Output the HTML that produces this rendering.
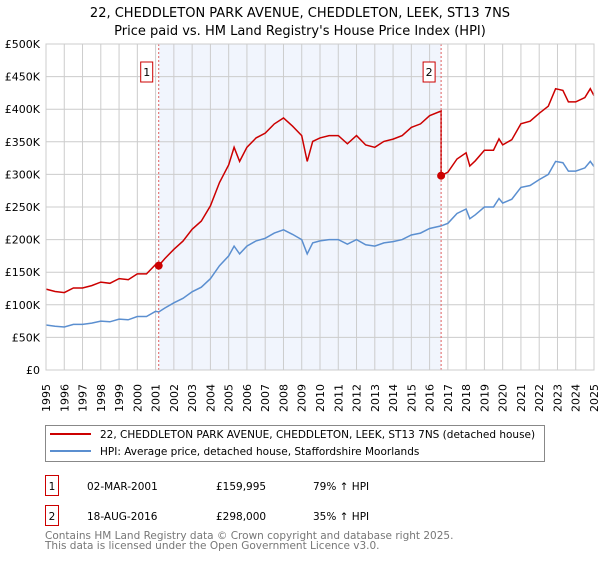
<!DOCTYPE html>
<html><head><meta charset="utf-8"><style>
body{margin:0;background:#fff;font-family:"DejaVu Sans","Liberation Sans",sans-serif;}
svg text{font-family:"DejaVu Sans","Liberation Sans",sans-serif;}
</style></head><body>
<svg id="c" width="600" height="560" xmlns="http://www.w3.org/2000/svg">
<text x="300" y="17" text-anchor="middle" font-size="13">22, CHEDDLETON PARK AVENUE, CHEDDLETON, LEEK, ST13 7NS</text>
<text x="300" y="35" text-anchor="middle" font-size="13">Price paid vs. HM Land Registry's House Price Index (HPI)</text>
<g id="plot"></g>
<g>
<rect x="45.5" y="425.5" width="499" height="36" fill="#fff" stroke="#888"/>
<line x1="50" y1="434" x2="91" y2="434" stroke="#cc0000" stroke-width="2"/>
<text x="100" y="438" font-size="10.5">22, CHEDDLETON PARK AVENUE, CHEDDLETON, LEEK, ST13 7NS (detached house)</text>
<line x1="50" y1="451" x2="91" y2="451" stroke="#5b8fd0" stroke-width="2"/>
<text x="100" y="455" font-size="10.5">HPI: Average price, detached house, Staffordshire Moorlands</text>
</g>
<g font-size="10.5">
<rect x="45.5" y="475.5" width="13" height="20" fill="#fff" stroke="#cc0000"/><text x="52" y="490" text-anchor="middle">1</text>
<text x="87" y="490">02-MAR-2001</text><text x="216" y="490">£159,995</text><text x="313" y="490">79% ↑ HPI</text>
<rect x="45.5" y="505.5" width="13" height="20" fill="#fff" stroke="#cc0000"/><text x="52" y="520" text-anchor="middle">2</text>
<text x="87" y="520">18-AUG-2016</text><text x="216" y="520">£298,000</text><text x="313" y="520">35% ↑ HPI</text>
</g>
<text x="45" y="539" font-size="10.5" fill="#777">Contains HM Land Registry data © Crown copyright and database right 2025.</text>
<text x="45" y="549" font-size="10.5" fill="#777">This data is licensed under the Open Government Licence v3.0.</text>
</svg>
<script>
const hpiYears=[1995,1995.5,1996,1996.5,1997,1997.5,1998,1998.5,1999,1999.5,2000,2000.5,2001,2001.17,2001.5,2002,2002.5,2003,2003.5,2004,2004.5,2005,2005.3,2005.6,2006,2006.5,2007,2007.5,2008,2008.5,2009,2009.3,2009.6,2010,2010.5,2011,2011.5,2012,2012.5,2013,2013.5,2014,2014.5,2015,2015.5,2016,2016.63,2017,2017.5,2018,2018.2,2018.5,2019,2019.5,2019.8,2020,2020.5,2021,2021.5,2022,2022.5,2022.9,2023.3,2023.6,2024,2024.5,2024.8,2025];
const hpiValues=[69,67,66,70,70,72,75,74,78,77,82,82,90,89,95,103,110,120,127,140,160,175,190,178,190,198,202,210,215,208,200,178,195,198,200,200,193,200,192,190,195,197,200,207,210,217,221,225,240,247,232,238,250,250,263,256,262,280,283,292,300,320,318,305,305,310,320,312];
const saleYears=[2001.17,2016.63];
const salePrices=[159995,298000];
const yTicks=[0,50,100,150,200,250,300,350,400,450,500];
const yLabels=["£0","£50K","£100K","£150K","£200K","£250K","£300K","£350K","£400K","£450K","£500K"];
const x0=46,x1=594,y0=370,y1=44;
const X=t=>x0+(t-1995)/30*(x1-x0);
const Y=v=>y0-v/500*(y0-y1);
const ns="http://www.w3.org/2000/svg",g=document.getElementById('plot');
function mk(tag,a){const e=document.createElementNS(ns,tag);for(const k in a)e.setAttribute(k,a[k]);g.appendChild(e);return e;}
let e=mk('rect',{x:x0,y:y1,width:x1-x0,height:y0-y1,fill:'#fff'});

e=mk('rect',{x:X(saleYears[0]),y:y1,width:X(saleYears[1])-X(saleYears[0]),height:y0-y1,fill:'#eef3fd',opacity:0.8});

for(let yr=1995;yr<=2025;yr++){
 e=mk('line',{x1:X(yr),x2:X(yr),y1:y1,y2:y0,stroke:'#ccc'});
 
 e=mk('text',{x:0,y:0,'font-size':11,transform:`translate(${X(yr)+4},${412}) rotate(-90)`});
 e.textContent=yr;
}
yTicks.forEach((v,i)=>{
 e=mk('line',{x1:x0,x2:x1,y1:Y(v),y2:Y(v),stroke:'#ccc'});
 
 e=mk('text',{x:40,y:Y(v)+4,'font-size':11,'text-anchor':'end'});
 e.textContent=yLabels[i];
});
const h1=hpiValues[hpiYears.indexOf(saleYears[0])],h2=hpiValues[hpiYears.indexOf(saleYears[1])];
const f1=salePrices[0]/1000/h1,f2=salePrices[1]/1000/h2;
let pb='',pr='';
hpiYears.forEach((t,i)=>{
 const v=hpiValues[i];pb+=(i?'L':'M')+X(t).toFixed(1)+','+Y(v).toFixed(1);
 const r=v*(t<saleYears[1]?f1:f2);
 if(Math.abs(t-saleYears[1])<1e-6) pr+='L'+X(t).toFixed(1)+','+Y(v*f1).toFixed(1);
 pr+=(i?'L':'M')+X(t).toFixed(1)+','+Y(r).toFixed(1);
});
e=mk('path',{d:pb,fill:'none',stroke:'#5b8fd0','stroke-width':1.5});

e=mk('path',{d:pr,fill:'none',stroke:'#cc0000','stroke-width':1.5});

saleYears.forEach((t,i)=>{
 e=mk('line',{x1:X(t),x2:X(t),y1:y1,y2:y0,stroke:'#e06060','stroke-dasharray':'2,2'});
 
 e=mk('circle',{cx:X(t),cy:Y(salePrices[i]/1000),r:4,fill:'#cc0000'});
 
 e=mk('rect',{x:X(t)-18,y:62,width:12,height:20,fill:'#fff',stroke:'#cc0000'});
 
 e=mk('text',{x:X(t)-12,y:76,'font-size':11,'text-anchor':'middle'});
 e.textContent=i+1;
});
e=mk('rect',{x:x0,y:y1,width:x1-x0,height:y0-y1,fill:'none',stroke:'#ccc'});

</script>
</body></html>
